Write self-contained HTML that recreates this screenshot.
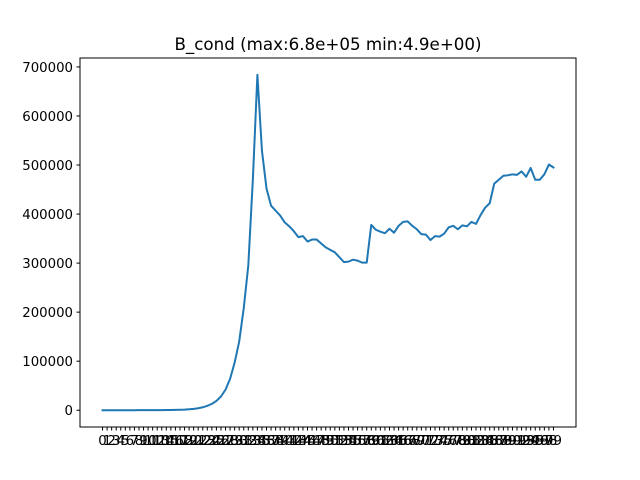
<!DOCTYPE html>
<html><head><meta charset="utf-8"><style>
body{margin:0;background:#fff;}
svg{display:block;font-family:"DejaVu Sans","Liberation Sans",sans-serif;}
</style></head><body>
<svg id="chart" width="640" height="480" viewBox="0 0 640 480">
<rect width="640" height="480" fill="#fff"/>
<text x="328" y="50" font-size="16.7" text-anchor="middle" fill="#000">B_cond (max:6.8e+05 min:4.9e+00)</text>
<g id="yaxis"></g>
<g id="xaxis"></g>
<path id="line" fill="none" stroke="#1f77b4" stroke-width="2" stroke-linejoin="round" stroke-linecap="square"/>
<rect x="80" y="58" width="496" height="369" fill="none" stroke="#000" stroke-width="1"/>
</svg>
<script>
const values = [10,15,20,30,40,55,70,90,110,140,170,210,260,330,420,540,700,950,1300,1900,2800,4000,6000,9000,13000,19000,28000,42000,64000,97000,140000,208000,295000,470000,684000,529000,452000,417000,407000,397000,383000,375000,365000,353000,355000,344000,348000,348000,340000,332000,327000,322000,312000,302000,303000,307000,305000,301000,301000,378000,368000,364000,361000,370000,362000,376000,384000,385000,376000,369000,359000,358000,347000,355000,354000,360000,373000,376000,369000,377000,375000,384000,380000,398000,413000,422000,462000,470000,478000,479000,481000,480000,487000,476000,494000,470000,470000,481000,501000,495000];
const yTicks = [0,100000,200000,300000,400000,500000,600000,700000];
const yTickLabels = ["0","100000","200000","300000","400000","500000","600000","700000"];
const categories = values.map((_,i)=>String(i));
</script>
<script>
const L=80,R=576,T=58,B=427;
const n=values.length;
const xmin=-(n-1)*0.05, xmax=(n-1)*1.05;
const dmax=Math.max(...values), dmin=Math.min(...values);
const ymin=dmin-(dmax-dmin)*0.05, ymax=dmax+(dmax-dmin)*0.05;
const xs=i=>L+(i-xmin)/(xmax-xmin)*(R-L);
const ys=v=>B-(v-ymin)/(ymax-ymin)*(B-T);
const NS="http://www.w3.org/2000/svg";
const yg=document.getElementById('yaxis'), xg=document.getElementById('xaxis');
yTicks.forEach((t,k)=>{
  const y=ys(t);
  const l=document.createElementNS(NS,'line');
  
  
  l.setAttribute('x1',L-3.5);l.setAttribute('x2',L);l.setAttribute('y1',y);l.setAttribute('y2',y);l.setAttribute('stroke','#000');
  yg.appendChild(l);
  const tx=document.createElementNS(NS,'text');
  
  
  tx.setAttribute('x',L-7);tx.setAttribute('y',y+5);tx.setAttribute('text-anchor','end');tx.setAttribute('font-size','13.3');
  tx.textContent=yTickLabels[k];yg.appendChild(tx);
});
categories.forEach((c,i)=>{
  const x=xs(i);
  const l=document.createElementNS(NS,'line');
  
  
  l.setAttribute('x1',x);l.setAttribute('x2',x);l.setAttribute('y1',B);l.setAttribute('y2',B+3.5);l.setAttribute('stroke','#000');
  xg.appendChild(l);
  const tx=document.createElementNS(NS,'text');
  
  
  tx.setAttribute('x',x);tx.setAttribute('y',B+18);tx.setAttribute('text-anchor','middle');tx.setAttribute('font-size','13.3');
  tx.textContent=c;xg.appendChild(tx);
});
document.getElementById('line').setAttribute('d',values.map((v,i)=>(i?'L':'M')+xs(i).toFixed(2)+','+ys(v).toFixed(2)).join(''));
</script>
</body></html>
